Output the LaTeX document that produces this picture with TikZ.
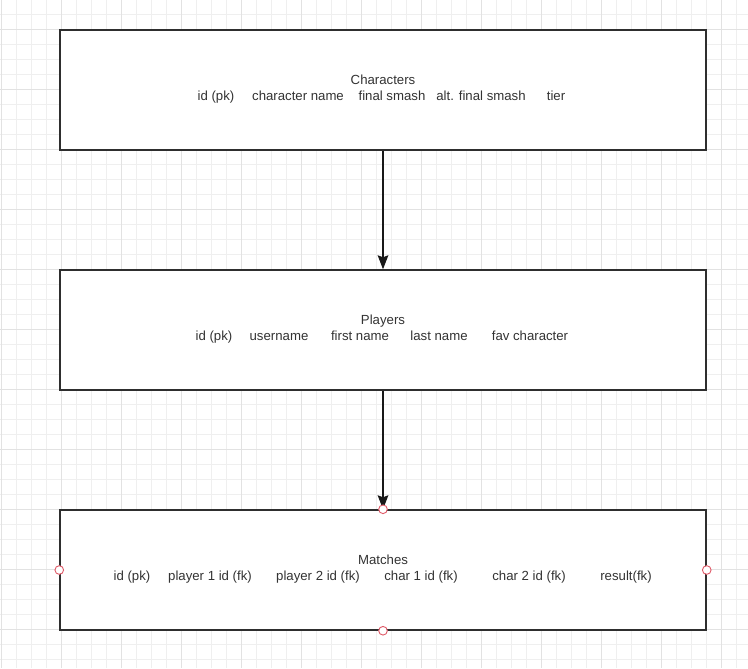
\documentclass[tikz,border=0pt]{standalone}
\usepackage{fontspec}
\setmainfont{Liberation Sans}
\usetikzlibrary{arrows.meta}
\definecolor{gridminor}{HTML}{EFEFEF}
\definecolor{gridmajor}{HTML}{E2E2E2}
\definecolor{boxline}{HTML}{2E2E2E}
\definecolor{txt}{HTML}{333333}
\definecolor{portred}{HTML}{E05C6A}
\tikzset{
  entity/.style={draw=boxline, line width=1.1pt, fill=white, minimum width=484.5pt, minimum height=90pt, inner sep=0pt},
  field/.style={text=txt, font=\fontsize{9.9pt}{11pt}\selectfont, anchor=base, inner sep=0pt},
  link/.style={draw=black!90, line width=0.85pt, -{Stealth[length=10.5pt,width=8pt,inset=1.5pt]}},
  port/.style={circle, draw=portred, fill=white, line width=0.7pt, minimum size=6.5pt, inner sep=0pt}
}
\begin{document}
\begin{tikzpicture}[x=0.75pt,y=-0.75pt]
  \useasboundingbox (0,0) rectangle (748,668);
  % grid
  \foreach \x in {1.5,16.5,...,736.5}
    \draw[gridminor,line width=0.75pt] (\x,0) -- (\x,668);
  \foreach \y in {14.5,29.5,...,659.5}
    \draw[gridminor,line width=0.75pt] (0,\y) -- (748,\y);
  \foreach \x in {1.5,61.5,...,721.5}
    \draw[gridmajor,line width=0.75pt] (\x,0) -- (\x,668);
  \foreach \y in {29.5,89.5,...,629.5}
    \draw[gridmajor,line width=0.75pt] (0,\y) -- (748,\y);

  % tables
  \node[entity] (characters) at (383,90) {};
  \node[entity] (players) at (383,330) {};
  \node[entity] (matches) at (383,570) {};

  \node[field] (charactersTitle) at (383,84) {Characters};
  \foreach \x/\t [count=\i] in {216/{id (pk)},298/{character name},392/{final smash},481/{alt. final smash},556/{tier}}
    \node[field] (charactersField\i) at (\x,100) {\t};

  \node[field] (playersTitle) at (383,324) {Players};
  \foreach \x/\t [count=\i] in {214/{id (pk)},279/{username},360/{first name},439/{last name},530/{fav character}}
    \node[field] (playersField\i) at (\x,340) {\t};

  \node[field] (matchesTitle) at (383,564) {Matches};
  \foreach \x/\t [count=\i] in {132/{id (pk)},210/{player 1 id (fk)},318/{player 2 id (fk)},421/{char 1 id (fk)},529/{char 2 id (fk)},626/{result(fk)}}
    \node[field] (matchesField\i) at (\x,580) {\t};

  % relations
  \draw[link] (characters.south) -- (players.north);
  \draw[link] (players.south) -- (matches.north);

  % connection points
  \node[port] (matchesN) at (matches.north) {};
  \node[port] (matchesS) at (matches.south) {};
  \node[port] (matchesW) at (matches.west) {};
  \node[port] (matchesE) at (matches.east) {};
\end{tikzpicture}
\end{document}
